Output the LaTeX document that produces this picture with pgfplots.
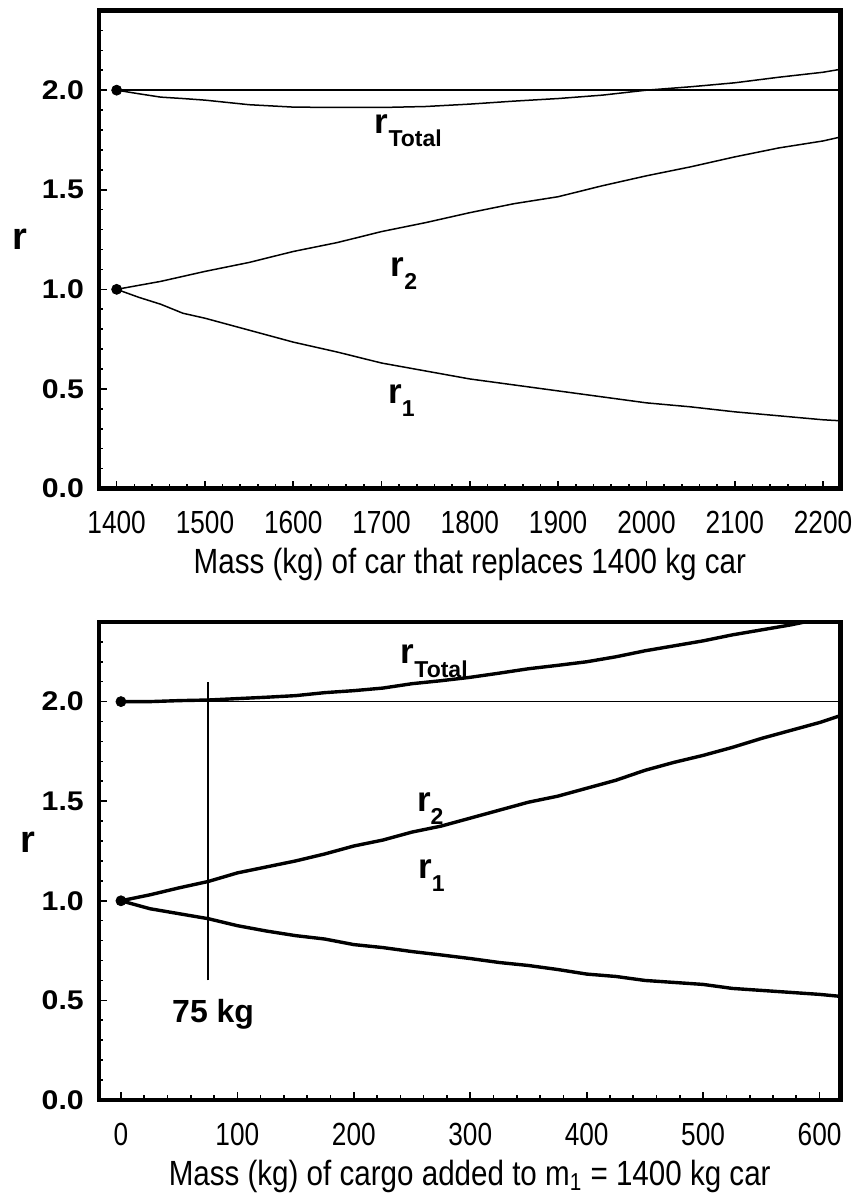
\documentclass[border=0pt]{standalone}
\usepackage{fontspec}
\setmainfont{Liberation Sans}
\newfontfamily\condfont[FakeStretch=0.82]{Liberation Sans}
\newfontfamily\titlefont[FakeStretch=0.845]{Liberation Sans}
\newfontfamily\widefont[FakeStretch=1.12]{Liberation Sans}
\usepackage{pgfplots}
\usepackage{pgfplotstable}
\pgfplotsset{compat=1.18}

\pgfplotstableread{
x r1 r2 rt
1400 1.000 1.000 2.000
1425 0.960 1.020 1.982
1450 0.925 1.040 1.965
1475 0.880 1.065 1.958
1500 0.855 1.090 1.950
1550 0.795 1.135 1.927
1600 0.735 1.190 1.915
1650 0.685 1.235 1.913
1700 0.630 1.290 1.913
1750 0.590 1.335 1.918
1800 0.550 1.385 1.930
1850 0.520 1.430 1.945
1900 0.490 1.465 1.958
1950 0.460 1.520 1.975
2000 0.430 1.570 2.000
2050 0.410 1.615 2.017
2100 0.385 1.665 2.037
2150 0.365 1.710 2.065
2200 0.345 1.745 2.090
2220 0.340 1.765 2.105
}\toptable

\pgfplotstableread{
x r1 r2 rt
0 1.000 1.000 2.000
25 0.960 1.030 2.000
50 0.935 1.065 2.005
75 0.910 1.097 2.008
100 0.875 1.140 2.015
125 0.848 1.170 2.022
150 0.825 1.200 2.030
175 0.808 1.235 2.045
200 0.780 1.275 2.055
225 0.765 1.305 2.068
250 0.745 1.345 2.090
275 0.728 1.375 2.105
300 0.710 1.415 2.122
325 0.690 1.455 2.143
350 0.675 1.495 2.165
375 0.655 1.525 2.182
400 0.632 1.565 2.200
425 0.620 1.605 2.225
450 0.600 1.655 2.255
475 0.590 1.695 2.280
500 0.580 1.730 2.305
525 0.560 1.770 2.335
550 0.550 1.815 2.360
575 0.540 1.855 2.385
600 0.530 1.895 2.415
618 0.520 1.930 2.440
}\bottable

\newcommand{\rlab}[1]{\bfseries\fontsize{17.5}{17.5}\selectfont r\raisebox{-6.7pt}{\fontsize{11.5}{11.5}\selectfont #1}}

\pgfplotsset{
  myaxis/.style={
    scale only axis, width=370.85pt, height=239pt,
    axis line style={line width=2.25pt},
    tick align=inside, xtick pos=bottom, ytick pos=left,
    major tick length=4pt, minor tick length=2.25pt,
    every tick/.style={black, line width=0.8pt},
    ymin=0, ymax=2.4,
    ytick={0,0.5,1,1.5,2}, yticklabels={0.0,0.5,1.0,1.5,2.0},
    minor ytick={0.1,0.2,0.3,0.4,0.6,0.7,0.8,0.9,1.1,1.2,1.3,1.4,1.6,1.7,1.8,1.9,2.1,2.2,2.3},
    yticklabel style={font=\widefont\bfseries\fontsize{13.5}{13.5}\selectfont, xshift=-4pt},
    xticklabel style={font=\condfont\fontsize{16}{16}\selectfont, yshift=-8pt},
    /pgf/number format/assume math mode=true,
    clip=true, axis on top,
    no marks,
  }
}

\begin{document}
\begin{tikzpicture}[x=1pt,y=1pt]

\begin{axis}[myaxis, name=top, at={(0,0)}, anchor=south west,
  xmin=1380, xmax=2220,
  xtick={1400,1500,1600,1700,1800,1900,2000,2100,2200},
  xticklabels={1400,1500,1600,1700,1800,1900,2000,2100,2200},
  minor xtick={1420,1440,1460,1480,1520,1540,1560,1580,1620,1640,1660,1680,1720,1740,1760,1780,1820,1840,1860,1880,1920,1940,1960,1980,2020,2040,2060,2080,2120,2140,2160,2180},
  clip mode=individual]
\addplot[black, line width=0.8pt] coordinates {(1400,2) (2220,2)};
\addplot[black, line width=0.75pt] table[x=x,y=r1] {\toptable};
\addplot[black, line width=0.75pt] table[x=x,y=r2] {\toptable};
\addplot[black, line width=0.75pt] table[x=x,y=rt] {\toptable};
\addplot[black, only marks, mark=*, mark size=2.5pt] coordinates {(1400,2) (1400,1)};
\node[anchor=base west, inner sep=0] at (axis cs:1692,1.783) {\rlab{Total}};
\node[anchor=base west, inner sep=0] at (axis cs:1710,1.066) {\rlab{2}};
\node[anchor=base west, inner sep=0] at (axis cs:1707,0.428) {\rlab{1}};
\node[anchor=base, inner sep=0] at (axis description cs:-0.1065,0.499) {\bfseries\fontsize{19}{19}\selectfont r};
\node[anchor=base, inner sep=0] at (axis description cs:0.5,-0.177) {\titlefont\fontsize{17.5}{17.5}\selectfont Mass (kg) of car that replaces 1400 kg car};
\end{axis}

\begin{axis}[myaxis, name=bot, at={(-0.15,-307)}, anchor=south west,
  xmin=-19, xmax=618,
  xtick={0,100,200,300,400,500,600},
  xticklabels={0,100,200,300,400,500,600},
  minor xtick={20,40,60,80,120,140,160,180,220,240,260,280,320,340,360,380,420,440,460,480,520,540,560,580},
  clip mode=individual]
\addplot[black, line width=0.8pt] coordinates {(0,2) (618,2)};
\addplot[black, line width=0.9pt] coordinates {(75,0.6) (75,2.1)};
\addplot[black, line width=1.7pt] table[x=x,y=r1] {\bottable};
\addplot[black, line width=1.7pt] table[x=x,y=r2] {\bottable};
\addplot[black, line width=1.7pt] table[x=x,y=rt] {\bottable};
\addplot[black, only marks, mark=*, mark size=2.5pt] coordinates {(0,2) (0,1)};
\node[anchor=base west, inner sep=0] at (axis cs:240,2.19) {\rlab{Total}};
\node[anchor=base west, inner sep=0] at (axis cs:254,1.448) {\rlab{2}};
\node[anchor=base west, inner sep=0] at (axis cs:255,1.114) {\rlab{1}};
\node[anchor=base west, inner sep=0] at (axis cs:43.7,0.388) {\bfseries\fontsize{16}{16}\selectfont 75 kg};
\node[anchor=base, inner sep=0] at (axis description cs:-0.0953,0.518) {\bfseries\fontsize{19}{19}\selectfont r};
\node[anchor=base, inner sep=0] at (axis description cs:0.5,-0.179) {\titlefont\fontsize{17.5}{17.5}\selectfont Mass (kg) of cargo added to m\textsubscript{1} = 1400 kg car};
\end{axis}

\pgfresetboundingbox
\path[use as bounding box] (-49.5,-355.25) rectangle (379.5,244.25);
\end{tikzpicture}
\end{document}
